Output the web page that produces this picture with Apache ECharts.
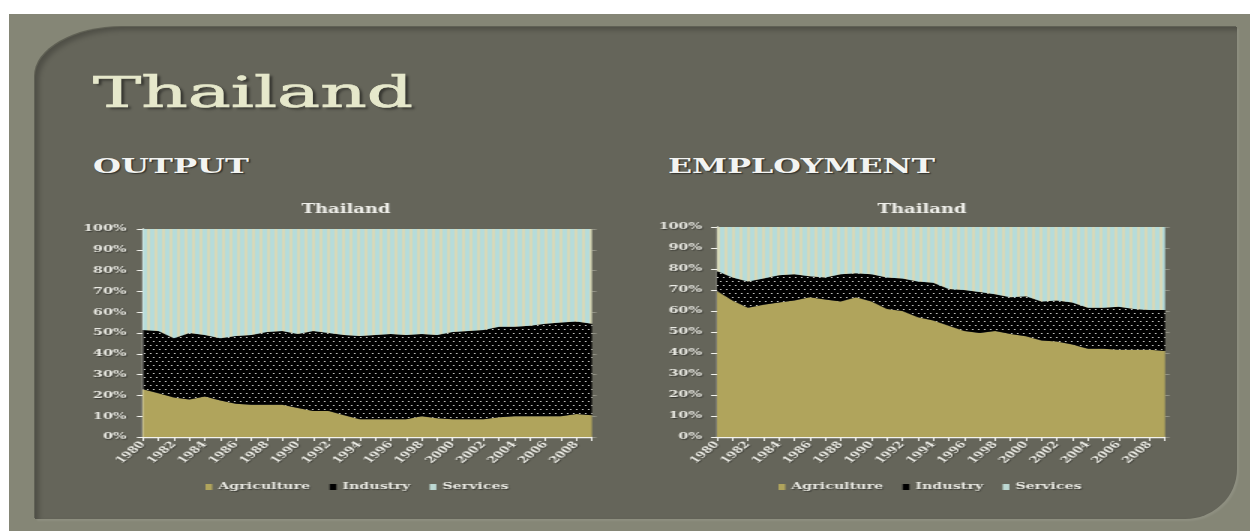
<!DOCTYPE html>
<html>
<head>
<meta charset="utf-8">
<title>Thailand</title>
<script src="https://cdn.jsdelivr.net/npm/echarts@6/dist/echarts.min.js"></script>
<style>
  html, body { margin: 0; padding: 0; background: #ffffff; }
  body { width: 1250px; height: 531px; position: relative; overflow: hidden; }
  #frame { position: absolute; left: 9px; top: 14px; width: 1241px; height: 517px; background: #858676; }
  #panel {
    position: absolute; left: 35px; top: 27px; width: 1202px; height: 492px;
    background: #65655a;
    border-radius: 88px 0 52px 0 / 50px 0 50px 0;
    box-shadow: inset 4px 3px 5px rgba(0,0,0,0.22), -1px -1px 0 rgba(60,60,52,0.5), 2px 2px 2px rgba(255,255,255,0.08);
  }
  .head { position: absolute; white-space: nowrap; transform-origin: 0 0; font-family: "DejaVu Serif", serif; }
  #title { left: 93px; top: 72px; font-size: 42px; line-height: 42px; color: #e6e8cb;
           -webkit-text-stroke: 0.7px #e6e8cb; text-shadow: 2px 2px 2px rgba(0,0,0,0.45); }
  .sub { top: 156px; font-size: 20.5px; line-height: 20.5px; font-weight: bold; color: #f3f4f2; text-shadow: 1px 1px 1px rgba(0,0,0,0.5); }
  #chart { position: absolute; left: 0; top: 0; width: 834px; height: 531px; transform: scaleX(1.5); transform-origin: 0 0; }
</style>
</head>
<body>
<div id="frame"></div>
<div id="panel"></div>
<div id="title" class="head" data-w="320">Thailand</div>
<div id="subOut" class="head sub" style="left:93px" data-w="156">OUTPUT</div>
<div id="subEmp" class="head sub" style="left:668px" data-w="267">EMPLOYMENT</div>
<div id="chart"></div>
<script>
// Category axis labels
const years = ['1980','1981','1982','1983','1984','1985','1986','1987','1988','1989',
               '1990','1991','1992','1993','1994','1995','1996','1997','1998','1999',
               '2000','2001','2002','2003','2004','2005','2006','2007','2008','2009'];
const seriesNames = ['Agriculture', 'Industry', 'Services'];
const chartTitle = 'Thailand';

// Output shares (% of total)
const outputAgriculture = [23, 21, 19, 18, 19.5, 17.5, 16, 15.5, 15.5, 15.5,
                           14, 12.5, 12.5, 10.5, 8.5, 8.5, 8.5, 8.5, 10, 9,
                           8.5, 8.5, 8.5, 9.5, 10, 10, 10, 10, 11, 10.5];
const outputIndustry    = [28.5, 30, 28.5, 32, 29.5, 30, 32.5, 33.5, 35, 35.5,
                           35.5, 38.5, 37.5, 38.5, 40, 40.5, 41, 40.5, 39.5, 40,
                           42, 42.5, 43, 43.5, 43, 43.5, 44.5, 45, 44.5, 44];
const outputServices    = [48.5, 49, 52.5, 50, 51, 52.5, 51.5, 51, 49.5, 49,
                           50.5, 49, 50, 51, 51.5, 51, 50.5, 51, 50.5, 51,
                           49.5, 49, 48.5, 47, 47, 46.5, 45.5, 45, 44.5, 45.5];

// Employment shares (% of total)
const empAgriculture = [69.5, 65, 61.5, 63, 64, 65, 66.5, 65.5, 64.5, 66.5,
                        64.5, 61, 60, 57, 55.5, 53, 50.5, 49.5, 50.5, 49,
                        48, 46, 45.5, 44, 42, 42, 41.5, 41.5, 41.5, 41];
const empIndustry    = [9.5, 11, 12.5, 12.5, 13, 12.5, 10, 10.5, 13, 11.5,
                        13, 15, 15.5, 17, 18, 17.5, 19.5, 19.5, 17.5, 17.5,
                        19, 18.5, 19.5, 20, 19.5, 19.5, 20.5, 19.5, 19, 19.5];
const empServices    = [21, 24, 26, 24.5, 23, 22.5, 23.5, 24, 22.5, 22,
                        22.5, 24, 24.5, 26, 26.5, 29.5, 30, 31, 32, 33.5,
                        33, 35.5, 35, 36, 38.5, 38.5, 38, 39, 39.5, 39.5];

// Stretch heading text to its column width
document.querySelectorAll('.head').forEach(function (el) {
  const w = el.getBoundingClientRect().width;
  el.style.transform = 'scaleX(' + (Number(el.dataset.w) / w) + ')';
});

// Fill patterns
function stripePattern() {
  const c = document.createElement('canvas');
  c.width = 5; c.height = 4;
  const g = c.getContext('2d');
  g.fillStyle = '#b6dcda'; g.fillRect(0, 0, 5, 4);
  g.fillStyle = '#d7d9b9'; g.fillRect(3, 0, 2, 4);
  return c;
}
function dotPattern() {
  const c = document.createElement('canvas');
  c.width = 4; c.height = 8;
  const g = c.getContext('2d');
  g.fillStyle = '#000000'; g.fillRect(0, 0, 4, 8);
  g.fillStyle = '#e2e2de';
  g.fillRect(0, 1, 1, 1);
  g.fillRect(2, 5, 1, 1);
  return c;
}
const fills = {
  Agriculture: '#b0a45c',
  Industry: { image: dotPattern(), repeat: 'repeat' },
  Services: { image: stripePattern(), repeat: 'repeat' }
};
const swatch = { Agriculture: '#b0a45c', Industry: '#000000', Services: '#bcd8d2' };

const SERIF = '"DejaVu Serif", serif';
const textColor = '#ebebe4';
const shadow = { textShadowColor: 'rgba(0,0,0,0.45)', textShadowBlur: 1, textShadowOffsetX: 0.7, textShadowOffsetY: 0.7 };

// Plot rectangles (chart coordinates; container is stretched 1.5x horizontally)
const grids = [
  { left: 95.3, top: 229, width: 299.3, height: 208 },
  { left: 478, top: 227, width: 298.7, height: 210 }
];

function xAxisFor(i) {
  return {
    type: 'category', gridIndex: i, data: years, boundaryGap: false,
    axisLine: { lineStyle: { color: '#f3f3ee', width: 1.3 } },
    axisTick: { show: true, interval: 0, length: 4, lineStyle: { color: '#f3f3ee', width: 1 } },
    axisLabel: Object.assign({ interval: 1, rotate: 50, margin: 6, fontSize: 9, fontWeight: 'bold',
                 fontFamily: SERIF, color: textColor }, shadow),
    splitLine: { show: false }
  };
}
function yAxisFor(i, margin) {
  return {
    type: 'value', gridIndex: i, min: 0, max: 100, interval: 10,
    axisLine: { show: true, lineStyle: { color: '#f3f3ee', width: 1.3 } },
    axisTick: { show: true, length: 4, lineStyle: { color: '#f3f3ee' } },
    axisLabel: Object.assign({ formatter: '{value}%', margin: margin, fontSize: 9.5, fontWeight: 'bold',
                 fontFamily: SERIF, color: textColor }, shadow),
    splitLine: { show: false }
  };
}
function rightTicks(i) {
  return {
    type: 'value', gridIndex: i, min: 0, max: 100, interval: 10, position: 'right',
    axisLine: { show: false },
    axisTick: { show: true, length: 3, lineStyle: { color: 'rgba(150,150,138,0.9)' } },
    axisLabel: { show: false }, splitLine: { show: false }
  };
}
function areaSeries(name, values, i) {
  return {
    name: name, type: 'line', stack: 'share' + i, xAxisIndex: i, yAxisIndex: i * 2,
    data: values, symbol: 'none', showSymbol: false, smooth: false,
    lineStyle: { width: 0 },
    itemStyle: { color: swatch[name] },
    areaStyle: { color: fills[name], opacity: 1 },
    emphasis: { disabled: true }, silent: true
  };
}

const chart = echarts.init(document.getElementById('chart'), null, { renderer: 'canvas' });
chart.setOption({
  animation: false,
  backgroundColor: 'transparent',
  grid: grids.map(g => Object.assign({ containLabel: false }, g)),
  xAxis: [xAxisFor(0), xAxisFor(1)],
  yAxis: [yAxisFor(0, 11), rightTicks(0), yAxisFor(1, 10), rightTicks(1)],
  graphic: [
    { type: 'text', x: 230.7, y: 210, style: { text: chartTitle, fill: '#f1f1ec', align: 'center', verticalAlign: 'middle',
      font: 'bold 12px "DejaVu Serif", serif', shadowColor: 'rgba(0,0,0,0.5)', shadowBlur: 1, shadowOffsetX: 1, shadowOffsetY: 1 } },
    { type: 'text', x: 614.7, y: 210, style: { text: chartTitle, fill: '#f1f1ec', align: 'center', verticalAlign: 'middle',
      font: 'bold 12px "DejaVu Serif", serif', shadowColor: 'rgba(0,0,0,0.5)', shadowBlur: 1, shadowOffsetX: 1, shadowOffsetY: 1 } }
  ],
  legend: [132, 514].map(x => ({
    left: x, top: 477, data: seriesNames, icon: 'rect', itemWidth: 4.5, itemHeight: 6, itemGap: 13,
    selectedMode: false,
    textStyle: Object.assign({ color: textColor, fontSize: 9.5, fontWeight: 'bold', fontFamily: SERIF, padding: [0, 0, 0, -1] }, shadow)
  })),
  series: [
    areaSeries('Agriculture', outputAgriculture, 0),
    areaSeries('Industry', outputIndustry, 0),
    areaSeries('Services', outputServices, 0),
    areaSeries('Agriculture', empAgriculture, 1),
    areaSeries('Industry', empIndustry, 1),
    areaSeries('Services', empServices, 1)
  ]
});
</script>
</body>
</html>
